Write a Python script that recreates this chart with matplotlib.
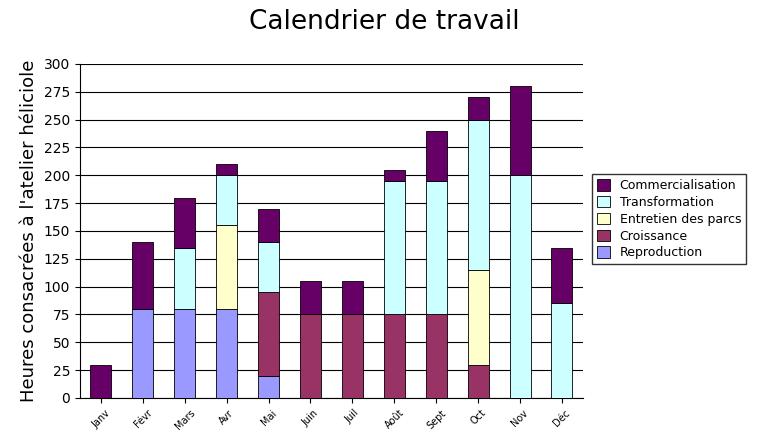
import matplotlib
matplotlib.use("Agg")
import matplotlib.pyplot as plt
import numpy as np

months = ["Janv", "Févr", "Mars", "Avr", "Mai", "Juin", "Juil", "Août", "Sept", "Oct", "Nov", "Déc"]
reproduction = [0, 80, 80, 80, 20, 0, 0, 0, 0, 0, 0, 0]
croissance = [0, 0, 0, 0, 75, 75, 75, 75, 75, 30, 0, 0]
entretien = [0, 0, 0, 75, 0, 0, 0, 0, 0, 85, 0, 0]
transformation = [0, 0, 55, 45, 45, 0, 0, 120, 120, 135, 200, 85]
commercialisation = [30, 60, 45, 10, 30, 30, 30, 10, 45, 20, 80, 50]

series = [
    ("Reproduction", reproduction, "#9999ff"),
    ("Croissance", croissance, "#993366"),
    ("Entretien des parcs", entretien, "#ffffcc"),
    ("Transformation", transformation, "#ccffff"),
    ("Commercialisation", commercialisation, "#660066"),
]

fig = plt.figure(figsize=(7.69, 4.43), dpi=100)
ax = fig.add_axes([0.104, 0.1016, 0.654, 0.754])
x = np.arange(len(months))
bottom = np.zeros(len(months))
for name, vals, col in series:
    v = np.array(vals, dtype=float)
    ax.bar(x, v, 0.5, bottom=bottom, color=col, edgecolor="black", linewidth=0.6, label=name, zorder=3)
    bottom += v

ax.set_xlim(-0.5, len(months) - 0.5)
ax.set_ylim(0, 300)
ax.set_yticks(range(0, 301, 25))
ax.yaxis.grid(True, color="black", linewidth=0.8, zorder=0)
ax.set_xticks(x)
ax.set_xticklabels(months, rotation=45, fontsize=7)
ax.tick_params(axis="y", labelsize=10)
for s in ["top", "right"]:
    ax.spines[s].set_visible(False)
ax.set_ylabel("Heures consacrées à l'atelier héliciole", fontsize=13)
fig.suptitle("Calendrier de travail", fontsize=19, y=0.98)

h, l = ax.get_legend_handles_labels()
fig.legend(h[::-1], l[::-1], loc="upper left", bbox_to_anchor=(0.765, 0.615),
           fontsize=9, frameon=True, fancybox=False, edgecolor="black",
           handlelength=1.0, handleheight=1.0, borderaxespad=0.3, labelspacing=0.3)
fig.savefig("out.png", dpi=100)
